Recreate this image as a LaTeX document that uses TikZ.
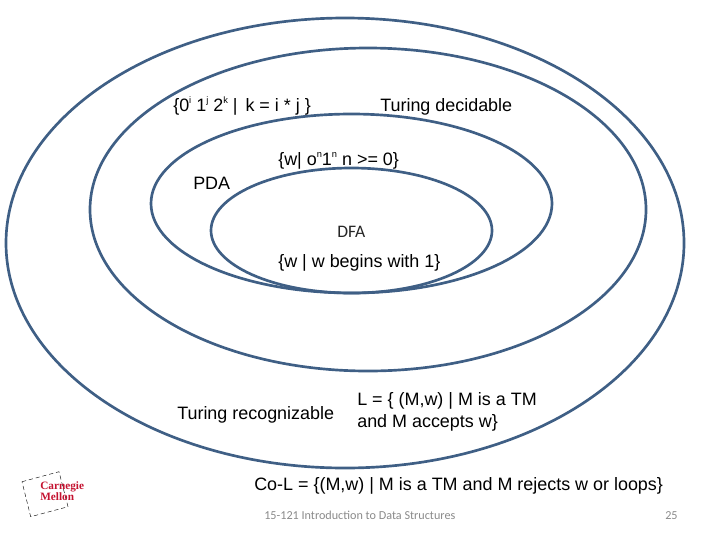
\documentclass[tikz,border=0pt]{standalone}
\usepackage{fontspec}
\setmainfont{Liberation Sans}
\newfontfamily\slidefont{Carlito}
\newfontfamily\logofont{Liberation Serif}
\definecolor{langSteel}{HTML}{3F5F85}
\definecolor{langGray}{HTML}{8A8A8A}
\definecolor{langRed}{HTML}{C41230}
\newcommand{\langsup}[1]{\raisebox{0.42em}{\fontsize{6.6}{7}\selectfont #1}}
\tikzset{
  lang ring/.style={draw=langSteel, line width=1.9pt},
  lang label/.style={font=\fontsize{12.75}{15}\selectfont, text=black, anchor=base west, inner sep=0pt, align=left},
  lang small/.style={font=\slidefont\fontsize{12.5}{14}\selectfont, text=black!85, anchor=base west, inner sep=0pt},
  lang foot/.style={font=\slidefont\fontsize{8.65}{11}\selectfont, text=langGray, anchor=base west, inner sep=0pt},
  lang logo/.style={font=\logofont\bfseries\fontsize{8}{8}\selectfont, text=langRed, anchor=base west, inner sep=0pt},
}
\begin{document}
\begin{tikzpicture}[x=0.025cm,y=-0.025cm]
\useasboundingbox (0,0) rectangle (720,540);
\draw[lang ring](345,243)ellipse(339 and 225);
\draw[lang ring](368,209.5)ellipse(278 and 161.5);
\draw[lang ring](351.5,203.5)ellipse(200.5 and 89.5);
\draw[lang ring](351.5,230.5)ellipse(140.5 and 62.5);
\node[lang label](mult)at(173,111){\{0\langsup{i} 1\langsup{j} 2\langsup{k} |\, k = i * j \}};
\node[lang label](decidable)at(380,111){Turing decidable};
\node[lang label](anbn)at(278,165){\{w| o\langsup{n}1\langsup{n} n >= 0\}};
\node[lang label](pda)at(193,189){PDA};
\node[lang small](dfa)at(337,237){DFA};
\node[lang label](begins)at(278,267){\{w | w begins with 1\}};
\node[lang label](recognizable)at(177,419.5){Turing recognizable};
\node[lang label](accepts)at(357,427){L = \{ (M,w) | M is a TM\\and M accepts w\}};
\node[lang label](coL)at(254,490.5){Co-L = \{(M,w) | M is a TM and M rejects w or loops\}};
\node[lang foot](course)at(264,519){15-121 Introduction to Data Structures};
\node[lang foot](page)at(665,519){25};
% logo
\draw[black,densely dashed,line width=0.3pt](22,481.7)--(59,471.7)--(68,506.7)--(30.7,516.7)--cycle;
\node[lang logo](carnegie)at(40,489.5){Carnegie};
\node[lang logo](mellon)at(40,500){Mellon};
\end{tikzpicture}
\end{document}
